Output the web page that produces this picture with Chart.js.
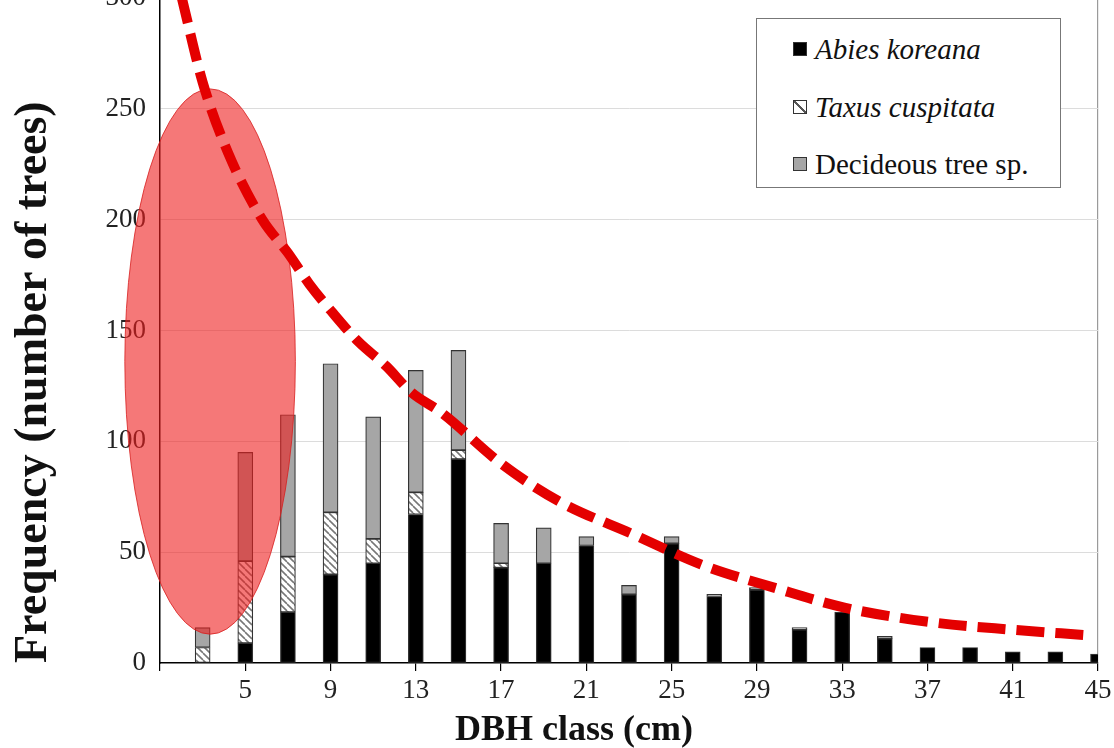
<!DOCTYPE html>
<html>
<head>
<meta charset="utf-8">
<title>Frecuencia por clase diamétrica</title>
<script src="https://cdn.jsdelivr.net/npm/chart.js@4.4.1/dist/chart.umd.min.js"></script>
<style>
    html, body { margin: 0; padding: 0; background: #fff; }
    #marco { position: relative; width: 1114px; height: 748px; overflow: hidden; }
    #lienzo { position: absolute; left: 0; top: -12px; }
    #leyenda {
        position: absolute; left: 756px; top: 18px; width: 305px; height: 170px;
        box-sizing: border-box; border: 1.5px solid #777; background: #fff;
        font-family: "Liberation Serif", serif; font-size: 29px; color: #111;
    }
    .item { position: absolute; left: 36px; height: 34px; display: flex; align-items: center; white-space: nowrap; }
    .muestra { width: 14px; height: 14px; box-sizing: border-box; border: 1px solid #333; margin-right: 8px; }
    #tituloX {
        position: absolute; left: 455px; top: 710px; white-space: nowrap; color: #111;
        font: bold 36px "Liberation Serif", serif; line-height: 36px;
    }
</style>
</head>
<body>
<div id="marco">
    <canvas id="lienzo" width="1114" height="760"></canvas>
    <div id="leyenda"></div>
    <div id="tituloX">DBH class (cm)</div>
</div>
<script>
// clases DBH (cm), centro de cada barra
const clasesDBH = [3, 5, 7, 9, 11, 13, 15, 17, 19, 21, 23, 25, 27, 29, 31, 33, 35, 37, 39, 41, 43, 45];

// número de árboles por especie
const abiesKoreana   = [0, 9, 23, 40, 45, 67, 92, 43, 45, 53, 31, 54, 30, 33, 15, 23, 11, 7, 7, 5, 5, 4];
const taxusCuspitata = [7, 37, 25, 28, 11, 10, 4, 2, 0, 0, 0, 0, 0, 0, 0, 0, 0, 0, 0, 0, 0, 0];
const caducifolias   = [9, 49, 64, 67, 55, 55, 45, 18, 16, 4, 4, 3, 1, 1, 1, 0, 1, 0, 0, 0, 0, 0];

const etiquetasSeries = ["Abies koreana", "Taxus cuspitata", "Decideous tree sp."];

const ticksX = [1, 5, 9, 13, 17, 21, 25, 29, 33, 37, 41, 45];
const ticksY = [0, 50, 100, 150, 200, 250, 300];

// curva roja discontinua
const curvaX = [2.0, 3.0, 4.2, 5.8, 7.0, 8.0, 9.1, 10.3, 11.6, 12.8, 14.2, 17.0, 19.7, 23.2, 26.5, 29.8, 33.1, 37.1, 41.0, 44.4];
const curvaY = [301, 262, 230, 200, 185, 171, 158, 145, 134, 122, 113, 90, 73, 58, 44, 34, 25, 18.5, 15, 12.6];

// elipse resaltada, en unidades de los ejes
const elipse = { x: 3.35, y: 136, radioX: 4.0, radioY: 123 };

const FUENTE = "'Liberation Serif', 'Times New Roman', serif";
Chart.defaults.font.family = FUENTE;
Chart.defaults.color = "#222";

function crearRayado() {
    const c = document.createElement("canvas");
    c.width = 7;
    c.height = 7;
    const g = c.getContext("2d");
    g.fillStyle = "#fff";
    g.fillRect(0, 0, 7, 7);
    g.strokeStyle = "#777";
    g.lineWidth = 1.6;
    [-7, 0, 7].forEach(k => {
        g.beginPath();
        g.moveTo(k, 0);
        g.lineTo(k + 7, 7);
        g.stroke();
    });
    return g.createPattern(c, "repeat");
}

function aPuntos(xs, ys) {
    return xs.map((x, i) => ({ x: x, y: ys[i] === 0 ? null : ys[i] }));
}

const pluginElipse = {
    id: "elipse",
    beforeDatasetDraw(chart, args) {
        if (args.meta.type !== "line") return;
        const { x, y } = chart.scales;
        const cx = x.getPixelForValue(elipse.x);
        const cy = y.getPixelForValue(elipse.y);
        const rx = x.getPixelForValue(elipse.x + elipse.radioX) - cx;
        const ry = cy - y.getPixelForValue(elipse.y + elipse.radioY);
        const ctx = chart.ctx;
        ctx.save();
        ctx.beginPath();
        ctx.ellipse(cx, cy, rx, ry, 0, 0, Math.PI * 2);
        ctx.fillStyle = "rgba(238, 30, 30, 0.6)";
        ctx.fill();
        ctx.strokeStyle = "rgba(215, 30, 30, 0.8)";
        ctx.lineWidth = 1;
        ctx.stroke();
        ctx.restore();
    }
};

const colores = ["#000", crearRayado(), "#a6a6a6"];
const valores = [abiesKoreana, taxusCuspitata, caducifolias];

const datasetsBarras = etiquetasSeries.map((nombre, i) => ({
    type: "bar",
    label: nombre,
    data: aPuntos(clasesDBH, valores[i]),
    backgroundColor: colores[i],
    borderColor: "#333",
    borderWidth: 1.2,
    borderSkipped: false,
    barThickness: 15,
    stack: "arboles",
    order: 1,
    clip: 0
}));

const datasetCurva = {
    type: "line",
    label: "curva",
    data: curvaX.map((x, i) => ({ x: x, y: curvaY[i] })),
    borderColor: "#e40000",
    borderWidth: 10,
    borderDash: [28, 11],
    pointRadius: 0,
    cubicInterpolationMode: "monotone",
    fill: false,
    stack: "curva",
    order: 0
};

new Chart(document.getElementById("lienzo"), {
    type: "bar",
    data: { datasets: [...datasetsBarras, datasetCurva] },
    plugins: [pluginElipse],
    options: {
        responsive: false,
        animation: false,
        layout: { padding: { top: 10, right: 16, bottom: 0, left: 0 } },
        plugins: {
            legend: { display: false },
            tooltip: { enabled: false }
        },
        scales: {
            x: {
                type: "linear",
                min: 1,
                max: 45,
                offset: false,
                afterBuildTicks: escala => { escala.ticks = ticksX.map(v => ({ value: v })); },
                afterFit: escala => {
                    escala.height = 85;
                    escala.paddingLeft = 0;
                    escala.paddingRight = 0;
                },
                ticks: {
                    font: { size: 27 },
                    padding: 4,
                    maxRotation: 0,
                    autoSkip: false,
                    callback: v => (v === 1 ? "" : v)
                },
                grid: {
                    offset: false,
                    color: c => (c.tick && c.tick.value === 45 ? "#9a9a9a" : "rgba(0,0,0,0)"),
                    tickColor: "#000",
                    tickLength: 8,
                    lineWidth: 1.2
                },
                border: { color: "#000", width: 1.5 }
            },
            y: {
                stacked: true,
                min: 0,
                max: 300,
                afterBuildTicks: escala => { escala.ticks = ticksY.map(v => ({ value: v })); },
                afterFit: escala => {
                    escala.width = 160;
                    escala.paddingTop = 0;
                    escala.paddingBottom = 0;
                },
                ticks: { font: { size: 27 }, padding: 14 },
                grid: {
                    color: c => (c.tick && c.tick.value === 0 ? "rgba(0,0,0,0)" : "#dcdcdc"),
                    drawTicks: false
                },
                border: { color: "#000", width: 1.5 },
                title: {
                    display: true,
                    text: "Frequency (number of trees)",
                    align: "start",
                    font: { size: 46, weight: "bold" },
                    color: "#111",
                    padding: { top: 7, bottom: 0 }
                }
            }
        }
    }
});

function mostrarLeyenda() {
    const contenedor = document.getElementById("leyenda");
    const fondos = [
        "#000",
        "linear-gradient(45deg, #fff 42%, #555 42%, #555 58%, #fff 58%)",
        "#a6a6a6"
    ];
    const cursivas = [true, true, false];
    const posiciones = [13, 71, 128];

    etiquetasSeries.forEach((nombre, i) => {
        const item = document.createElement("div");
        item.classList.add("item");
        item.style.top = posiciones[i] + "px";

        const muestra = document.createElement("span");
        muestra.classList.add("muestra");
        muestra.style.background = fondos[i];

        const texto = document.createElement("span");
        texto.textContent = nombre;
        if (cursivas[i]) texto.style.fontStyle = "italic";

        item.appendChild(muestra);
        item.appendChild(texto);
        contenedor.appendChild(item);
    });
}

mostrarLeyenda();
</script>
</body>
</html>
